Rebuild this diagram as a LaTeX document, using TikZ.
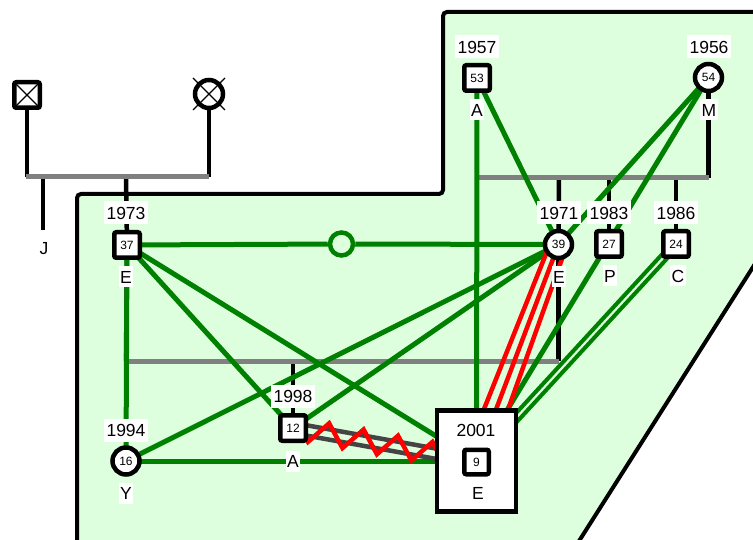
\documentclass[tikz,border=0pt]{standalone}
\usepackage{fontspec}
\setmainfont{Liberation Sans}
\usetikzlibrary{decorations.pathmorphing,calc}
\pgfdeclarelayer{bg}\pgfdeclarelayer{fam}\pgfdeclarelayer{edges}
\pgfsetlayers{bg,fam,edges,main}
\definecolor{regiongreen}{RGB}{221,255,221}
\definecolor{relgreen}{RGB}{0,128,0}
\definecolor{bargray}{RGB}{128,128,128}
\definecolor{zgray}{RGB}{68,68,68}
\definecolor{zred}{RGB}{255,0,0}
\tikzset{
  male/.style={draw=black, line width=4.5pt, fill=white, rectangle, rounded corners=2pt, minimum size=25.5pt, inner sep=0pt, outer sep=0pt, font=\fontsize{12}{14}\selectfont},
  female/.style={draw=black, line width=4.5pt, fill=white, circle, minimum size=27pt, inner sep=0pt, outer sep=0pt, font=\fontsize{12}{14}\selectfont},
  yearlbl/.style={fill=white, inner xsep=2.5pt, inner ysep=5pt, text height=13pt, text depth=0pt, font=\fontsize{17.5}{20}\selectfont},
  letterlbl/.style={fill=white, inner xsep=1.5pt, inner ysep=4pt, text height=13pt, text depth=0pt, font=\fontsize{17.5}{20}\selectfont},
  rel/.style={draw=relgreen, line width=5pt},
  hostile/.style={draw=zred, line width=4.5pt},
  famline/.style={draw=black, line width=4.5pt},
  sibbar/.style={draw=bargray, line width=5pt},
  xline/.style={draw=black, line width=1.3pt}
}
\begin{document}
\begin{tikzpicture}[x=1pt,y=-1pt]
\useasboundingbox (0,0) rectangle (753,540);
% nodes
\node[male] (dm) at (27,95) {};
\node[female, minimum size=28pt] (df) at (209,94) {};
\node[male] (n37) at (127,245) {37};
\node[female] (n39) at (558.5,244.5) {39};
\node[male] (n27) at (609,244) {27};
\node[male] (n24) at (676,244) {24};
\node[male] (n53) at (477,78) {53};
\node[female] (n54) at (708.5,77.5) {54};
\node[male] (n12) at (293,428) {12};
\node[female] (n16) at (126,461) {16};
\node[circle, draw=relgreen, line width=4.5pt, fill=regiongreen, minimum size=23pt, inner sep=0pt] (gc) at (341.5,244) {};
\node[draw=black, line width=4.5pt, fill=white, minimum width=79pt, minimum height=101pt, inner sep=0pt, outer sep=0pt] (f) at (476.5,461) {};
\node[male, minimum size=24.5pt] (n9) at (476.5,462) {9};
\node[font=\fontsize{17.5}{20}\selectfont] (t2001) at (476,430) {2001};
\node[font=\fontsize{17.5}{20}\selectfont] (tE) at (478,493) {E};
% crosses for deceased
\draw[xline] ([shift={(-11,-11)}]dm.center) -- ([shift={(11,11)}]dm.center);
\draw[xline] ([shift={(11,-11)}]dm.center) -- ([shift={(-11,11)}]dm.center);
\draw[xline] ([shift={(-16,-16)}]df.center) -- ([shift={(16,16)}]df.center);
\draw[xline] ([shift={(16,-16)}]df.center) -- ([shift={(-16,16)}]df.center);
% labels
\node[yearlbl] (l37) at (126,213) {1973};
\node[letterlbl] (e37) at (126,277) {E};
\node[yearlbl] (l39) at (559,213) {1971};
\node[letterlbl] (e39) at (559,277) {E};
\node[yearlbl] (l27) at (609,213) {1983};
\node[letterlbl] (e27) at (610,276) {P};
\node[yearlbl] (l24) at (676,213) {1986};
\node[letterlbl] (e24) at (678,276) {C};
\node[yearlbl] (l53) at (477,47) {1957};
\node[letterlbl] (e53) at (477,110) {A};
\node[yearlbl] (l54) at (709,47) {1956};
\node[letterlbl] (e54) at (709,110) {M};
\node[yearlbl] (l12) at (293,396) {1998};
\node[letterlbl] (e12) at (293,461) {A};
\node[yearlbl] (l16) at (126,430) {1994};
\node[letterlbl] (e16) at (126,493) {Y};
\node[letterlbl] (lJ) at (44,248) {J};
% coordinates
\coordinate (b1l) at (26,177);
\coordinate (b1r) at (209,177);
\coordinate (b1j) at (43,177);
\coordinate (jend) at (43,230);
\coordinate (b1c) at (126,177);
\coordinate (b2l) at (477,178);
\coordinate (b2r) at (708.5,178);
\coordinate (b2a) at (559,178);
\coordinate (b2b) at (609,178);
\coordinate (b2c) at (676,178);
\coordinate (b3l) at (126,361);
\coordinate (b3r) at (558.5,361);
\coordinate (b3c) at (293,361);
\coordinate (zs) at ($(n12.center)!-9pt!(f.center)$);
% background region
\begin{pgfonlayer}{bg}
\clip (0,0) rectangle (753,540);
\draw[fill=regiongreen, line width=4pt, rounded corners=4pt]
  (77,560) -- (77,194) -- (443,194) -- (443,12) -- (800,12) -- (800,193) -- (567,560) -- cycle;
\end{pgfonlayer}
% family lines
\begin{pgfonlayer}{fam}
\draw[famline] (dm) -- (dm |- b1l);
\draw[famline] (df) -- (df |- b1r);
\draw[famline] (b1j) -- (jend);
\draw[famline] (b1c) -- (n37);
\draw[sibbar] (b1l) -- (b1r);
\draw[famline] (n53) -- (b2l);
\draw[famline] (n54) -- (b2r);
\draw[famline] (b2a) -- (n39);
\draw[famline] (b2b) -- (n27);
\draw[famline] (b2c) -- (n24);
\draw[sibbar] (b2l) -- (b2r);
\draw[famline] (n37) -- (b3l);
\draw[famline] (n39) -- (b3r);
\draw[famline] (b3c) -- (n12);
\draw[sibbar] (b3l) -- (b3r);
\end{pgfonlayer}
% relationships
\begin{pgfonlayer}{edges}
\draw[rel] (n37) -- (gc) -- (n39);
\draw[rel] (n37) -- (n16);
\draw[rel] (n37) -- (n12);
\draw[rel] (n37) -- (f);
\draw[rel] (n53) -- (n39);
\draw[rel] (n53) -- (f);
\draw[rel] (n54) -- (n39);
\draw[rel] (n54) -- (f);
\draw[rel] (n39) -- (n16);
\draw[rel] (n39) -- (n12);
\draw[rel] (n16) -- (f);
\draw[rel, line width=4pt] ([shift={(2.4,2.2)}]n24.center) -- ([shift={(2.4,2.2)}]f.center);
\draw[rel, line width=4pt] ([shift={(-2.4,-2.2)}]n24.center) -- ([shift={(-2.4,-2.2)}]f.center);
\draw[hostile] ([shift={(-7.6,-2.9)}]n39.center) -- ([shift={(-11.5,-4.3)}]f.center);
\draw[hostile] (n39.center) -- (f.center);
\draw[hostile] ([shift={(7.6,2.9)}]n39.center) -- ([shift={(11.5,4.3)}]f.center);
\draw[draw=zgray, line width=4.5pt] ([shift={(0.9,-5)}]n12.center) -- ([shift={(0.9,-5)}]f.center);
\draw[draw=zgray, line width=4.5pt] ([shift={(-0.9,5)}]n12.center) -- ([shift={(-0.9,5)}]f.center);
\draw[hostile, decorate, decoration={zigzag, segment length=35pt, amplitude=11pt}] (zs) -- (f.center);
\end{pgfonlayer}
\end{tikzpicture}
\end{document}
